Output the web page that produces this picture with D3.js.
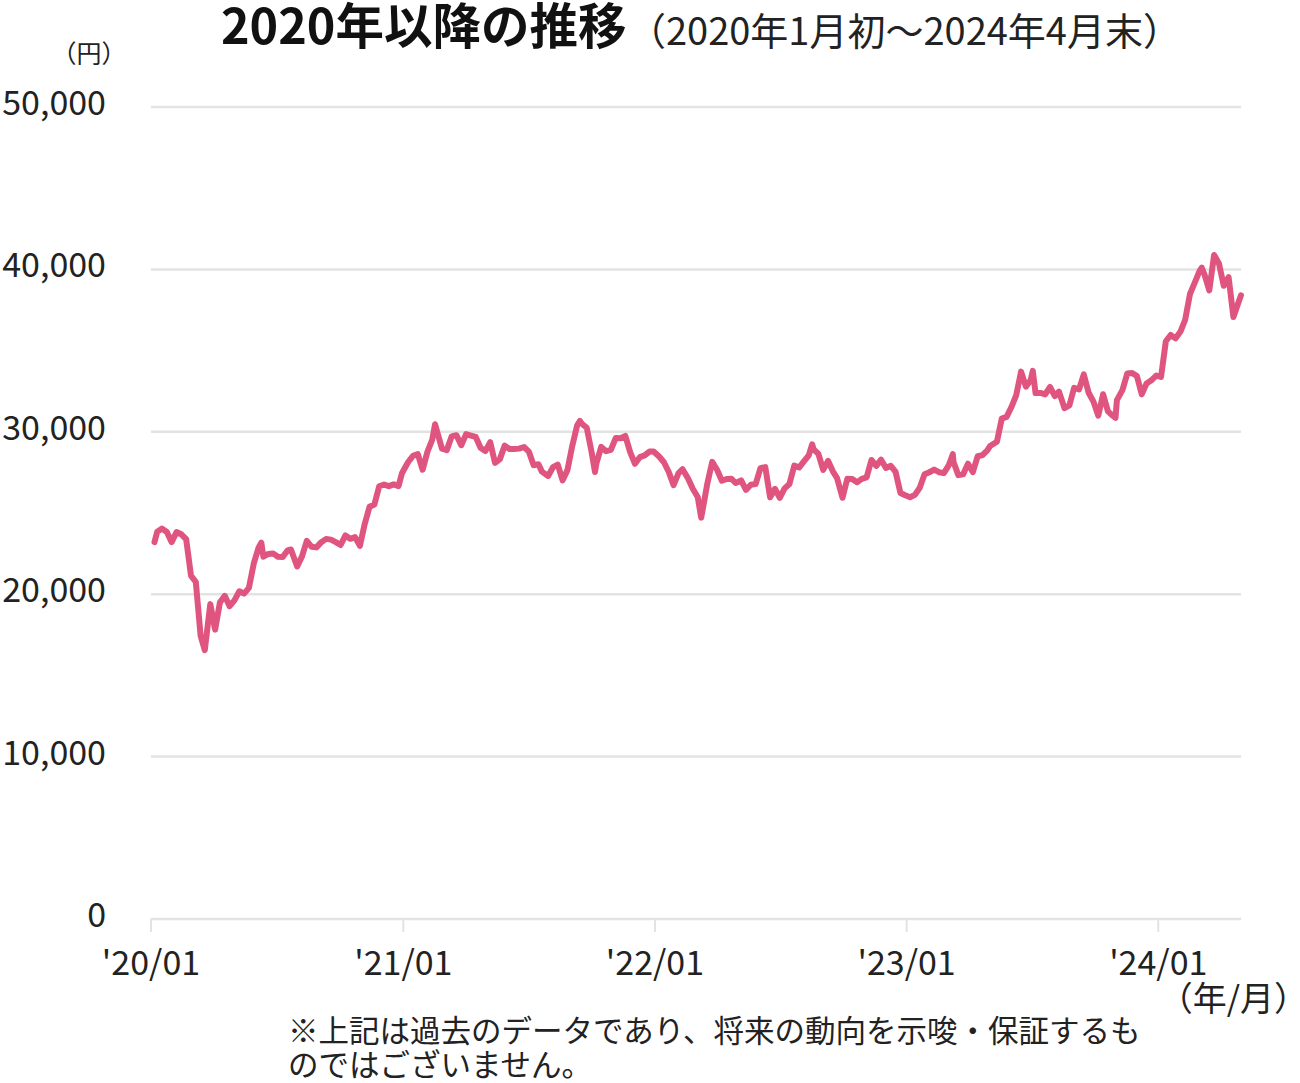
<!DOCTYPE html>
<html><head><meta charset="utf-8">
<script src="https://cdn.jsdelivr.net/npm/d3@7"></script>
<style>
html,body{margin:0;padding:0;background:#fff;}
svg{display:block;font-family:"Noto Sans CJK JP","Noto Sans",sans-serif;}
</style></head>
<body><svg id="chart" width="1300" height="1083"></svg>
<script>
const dates = [
"2020-01-06","2020-01-10","2020-01-17","2020-01-24","2020-01-31","2020-02-07","2020-02-14","2020-02-21","2020-02-28","2020-03-06","2020-03-13","2020-03-19","2020-03-27","2020-04-03","2020-04-10","2020-04-17","2020-04-24","2020-05-01","2020-05-08","2020-05-15","2020-05-22","2020-05-29","2020-06-05","2020-06-09","2020-06-12","2020-06-19","2020-06-26","2020-07-03","2020-07-10","2020-07-17","2020-07-22","2020-07-31","2020-08-07","2020-08-14","2020-08-21","2020-08-28","2020-09-04","2020-09-11","2020-09-18","2020-09-25","2020-10-02","2020-10-09","2020-10-16","2020-10-23","2020-10-30","2020-11-06","2020-11-13","2020-11-20","2020-11-27","2020-12-04","2020-12-11","2020-12-18","2020-12-25","2020-12-30",
"2021-01-08","2021-01-15","2021-01-22","2021-01-29","2021-02-05","2021-02-12","2021-02-16","2021-02-19","2021-02-26","2021-03-05","2021-03-12","2021-03-19","2021-03-26","2021-04-02","2021-04-09","2021-04-16","2021-04-23","2021-04-30","2021-05-07","2021-05-14","2021-05-21","2021-05-28","2021-06-04","2021-06-11","2021-06-18","2021-06-25","2021-07-02","2021-07-09","2021-07-16","2021-07-21","2021-07-30","2021-08-06","2021-08-13","2021-08-20","2021-08-27","2021-09-03","2021-09-10","2021-09-14","2021-09-17","2021-09-24","2021-10-01","2021-10-06","2021-10-08","2021-10-15","2021-10-22","2021-10-29","2021-11-05","2021-11-12","2021-11-19","2021-11-26","2021-12-03","2021-12-10","2021-12-17","2021-12-24","2021-12-30",
"2022-01-07","2022-01-14","2022-01-21","2022-01-28","2022-02-04","2022-02-10","2022-02-18","2022-02-25","2022-03-04","2022-03-09","2022-03-11","2022-03-18","2022-03-25","2022-04-01","2022-04-08","2022-04-15","2022-04-22","2022-04-28","2022-05-06","2022-05-13","2022-05-20","2022-05-27","2022-06-03","2022-06-10","2022-06-17","2022-06-24","2022-07-01","2022-07-08","2022-07-15","2022-07-22","2022-07-29","2022-08-05","2022-08-12","2022-08-17","2022-08-19","2022-08-26","2022-09-02","2022-09-09","2022-09-16","2022-09-22","2022-09-30","2022-10-07","2022-10-14","2022-10-21","2022-10-28","2022-11-04","2022-11-11","2022-11-18","2022-11-25","2022-12-02","2022-12-09","2022-12-16","2022-12-23","2022-12-30",
"2023-01-06","2023-01-13","2023-01-20","2023-01-27","2023-02-03","2023-02-10","2023-02-17","2023-02-24","2023-03-03","2023-03-09","2023-03-10","2023-03-17","2023-03-24","2023-03-31","2023-04-07","2023-04-14","2023-04-21","2023-04-28","2023-05-02","2023-05-12","2023-05-19","2023-05-26","2023-06-02","2023-06-09","2023-06-16","2023-06-23","2023-06-30","2023-07-03","2023-07-07","2023-07-14","2023-07-21","2023-07-28","2023-08-04","2023-08-10","2023-08-18","2023-08-25","2023-09-01","2023-09-08","2023-09-15","2023-09-22","2023-09-29","2023-10-06","2023-10-13","2023-10-20","2023-10-27","2023-10-31","2023-11-02","2023-11-10","2023-11-17","2023-11-24","2023-12-01","2023-12-08","2023-12-15","2023-12-22","2023-12-29",
"2024-01-05","2024-01-12","2024-01-19","2024-01-26","2024-02-02","2024-02-09","2024-02-16","2024-02-22","2024-03-01","2024-03-04","2024-03-08","2024-03-15","2024-03-22","2024-03-29","2024-04-05","2024-04-12","2024-04-19","2024-04-26","2024-04-30"
];
const values = [
23204,23850,24041,23827,23205,23828,23688,23387,21143,20750,17431,16553,19389,17820,19498,19897,19262,19619,20179,20037,20388,21877,22863,23178,22305,22478,22512,22306,22290,22696,22751,21710,22329,23289,22920,22882,23205,23406,23360,23204,23029,23619,23410,23516,22977,24325,25385,25527,26644,26751,26652,26763,26656,27444,
28139,28519,28631,27663,28779,29520,30467,30018,28966,28864,29717,29792,29176,29854,29768,29683,29020,28812,29357,28084,28317,29149,28941,28948,28964,29066,28783,27940,28003,27548,27283,27820,27977,27013,27641,29128,30381,30670,30500,30249,28771,27528,28048,29068,28804,28892,29611,29609,29745,28751,28029,28437,28545,28782,28791,
28478,28124,27522,26717,27440,27696,27122,26476,25985,24717,25162,26827,28149,27665,26985,27093,27105,26847,27003,26427,26739,26781,27761,27824,25963,26491,25935,26517,26788,27914,27801,28175,28546,29222,28930,28641,27650,28214,27567,27153,25937,27116,27090,26890,27105,27199,28263,27899,28283,27777,27901,27527,26235,26094,
25973,26119,26553,27382,27509,27670,27513,27453,27927,28623,28143,27333,27385,28041,27518,28493,28564,28856,29123,29388,30808,30916,31524,32265,33706,32781,33189,33753,32388,32391,32304,32759,32192,32473,31450,31624,32710,32606,33533,32402,31857,30994,32315,31259,30991,30858,31949,32568,33585,33625,33431,32307,32970,33169,33464,
33377,35577,35963,35751,36158,36897,38487,39098,39910,40109,39688,38707,40888,40369,38992,39523,37068,37934,38405
];
const yTicks = [0,10000,20000,30000,40000,50000];
const xTickDates = ["2020-01-01","2021-01-01","2022-01-01","2023-01-01","2024-01-01"];
const xTickLabels = ["'20/01","'21/01","'22/01","'23/01","'24/01"];

const svg = d3.select("#chart");
const parse = d3.utcParse("%Y-%m-%d");
const data = dates.map((d,i)=>({date:parse(d), value:values[i]}));

const x = d3.scaleUtc().domain([parse("2020-01-01"), parse("2024-04-30")]).range([151,1241]);
const y = d3.scaleLinear().domain([0,50000]).range([919,107]);

// gridlines
svg.append("g").selectAll("line").data(yTicks).join("line")
  .attr("x1",151).attr("x2",1241)
  .attr("y1",d=>y(d)).attr("y2",d=>y(d))
  .attr("stroke","#e3e3e3").attr("stroke-width",2.5);

// y labels
svg.append("g").selectAll("text").data(yTicks).join("text")
  .attr("x",106).attr("y",d=>y(d)+8)
  .attr("text-anchor","end").attr("font-size",34).attr("fill","#222")
  .text(d=>d3.format(",")(d));

// x ticks
const xt = xTickDates.map(parse);
svg.append("g").selectAll("line").data(xt).join("line")
  .attr("x1",d=>x(d)).attr("x2",d=>x(d)).attr("y1",919).attr("y2",932)
  .attr("stroke","#e3e3e3").attr("stroke-width",2);
svg.append("g").selectAll("text").data(xt).join("text")
  .attr("x",d=>x(d)).attr("y",975)
  .attr("text-anchor","middle").attr("font-size",34).attr("fill","#222")
  .text((d,i)=>xTickLabels[i]);

// line
svg.append("path").datum(data)
  .attr("fill","none").attr("stroke","#e0557f").attr("stroke-width",6)
  .attr("stroke-linejoin","round").attr("stroke-linecap","round")
  .attr("d", d3.line().x(d=>x(d.date)).y(d=>y(d.value)));

// titles
svg.append("text").attr("x",221).attr("y",44).attr("font-size",48.5).attr("font-weight","bold").attr("fill","#111")
  .text("2020年以降の推移");
svg.append("text").attr("x",628).attr("y",45).attr("font-size",38).attr("fill","#222")
  .text("（2020年1月初〜2024年4月末）");
svg.append("text").attr("x",89).attr("y",63).attr("text-anchor","middle").attr("font-size",25).attr("fill","#222")
  .text("（円）");
svg.append("text").attr("x",1308).attr("y",1011).attr("text-anchor","end").attr("font-size",34).attr("fill","#222")
  .text("（年/月）");
svg.append("text").attr("x",288).attr("y",1042).attr("font-size",30.5).attr("fill","#222")
  .text("※上記は過去のデータであり、将来の動向を示唆・保証するも");
svg.append("text").attr("x",288).attr("y",1076).attr("font-size",30.5).attr("fill","#222")
  .text("のではございません。");
</script></body></html>
